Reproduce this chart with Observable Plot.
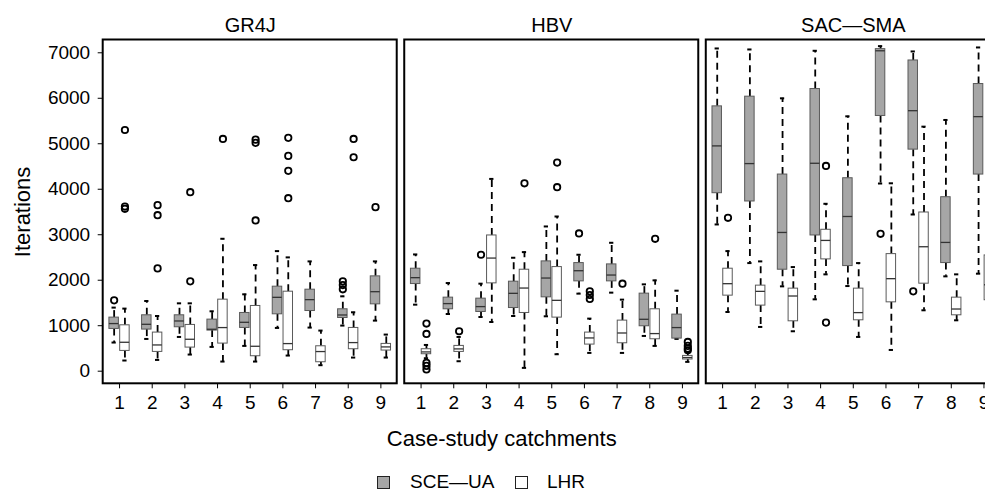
<!DOCTYPE html>
<html>
<head>
<meta charset="utf-8">
<script src="https://cdn.jsdelivr.net/npm/d3@7"></script>
<script src="https://cdn.jsdelivr.net/npm/@observablehq/plot@0.6"></script>
<style>
  html, body { margin: 0; padding: 0; background: #fff; overflow: hidden; }
  #wrap { position: relative; width: 985px; height: 491px; overflow: hidden; font-family: "Liberation Sans", Arial, sans-serif; }
  #wrap svg { max-width: none !important; height: auto; display: block; }
  #legend { position: absolute; left: 0; top: 470px; width: 985px; height: 24px; font-size: 19px; color: #000; }
  #legend .sw { position: absolute; top: 6px; width: 11px; height: 11px; border: 1px solid #222; box-sizing: content-box; }
  #legend .lb { position: absolute; top: 0; line-height: 24px; white-space: nowrap; }
</style>
</head>
<body>
<div id="wrap"></div>
<script>
// ---------- data ----------
const models = ["GR4J", "HBV", "SAC\u2014SMA"];
const methods = ["SCE\u2014UA", "LHR"];
const catchments = [1, 2, 3, 4, 5, 6, 7, 8, 9];
const yTicks = [0, 1000, 2000, 3000, 4000, 5000, 6000, 7000];

// each row: [lower whisker, Q1, median, Q3, upper whisker] for catchments 1..9
const gr4jSce = [
  [630, 929, 1047, 1178, 1398], [709, 915, 1031, 1229, 1543], [753, 966, 1104, 1229, 1492],
  [534, 893, 922, 1134, 1317], [556, 951, 1075, 1280, 1690], [951, 1251, 1624, 1858, 2640],
  [959, 1323, 1573, 1792, 2414], [1003, 1170, 1236, 1361, 1646], [1112, 1470, 1748, 2085, 2414]
];
const gr4jLhr = [
  [235, 446, 636, 1009, 1376], [248, 424, 577, 849, 1214], [366, 519, 702, 1017, 1492],
  [212, 607, 959, 1573, 2911], [212, 329, 548, 1434, 2333], [344, 461, 607, 1748, 2502],
  [132, 197, 432, 548, 893], [300, 483, 629, 951, 1295], [300, 454, 534, 600, 805]
];
const hbvSce = [
  [1463, 1916, 2056, 2253, 2567], [1257, 1361, 1486, 1617, 1938], [1192, 1302, 1420, 1595, 1924],
  [1214, 1389, 1712, 1968, 2494], [1207, 1624, 2048, 2414, 3182], [1705, 1975, 2209, 2377, 2560],
  [1727, 1975, 2114, 2348, 2823], [775, 988, 1141, 1705, 1909], [710, 717, 959, 1244, 1770]
];
const hbvLhr = [
  [285, 373, 424, 483, 577], [219, 424, 490, 556, 753], [1082, 1931, 2487, 2984, 4227],
  [73, 1280, 1828, 2231, 2618], [373, 1178, 1558, 2289, 3401], [402, 585, 731, 849, 1156],
  [402, 614, 840, 1112, 1573], [556, 702, 827, 1361, 1997], [205, 257, 300, 336, 420]
];
const sacSce = [
  [3226, 3913, 4953, 5822, 7095], [2377, 3731, 4564, 6035, 7073], [1865, 2231, 3050, 4323, 5999],
  [1580, 2984, 4571, 6203, 7044], [1872, 2311, 3401, 4242, 5603], [4126, 5611, 7044, 7080, 7146],
  [3445, 4871, 5727, 6831, 7029], [2085, 2377, 2831, 3825, 5523], [2144, 4323, 5596, 6313, 7117]
];
const sacLhr = [
  [1302, 1661, 1924, 2253, 2640], [973, 1442, 1755, 1881, 2414], [878, 1097, 1653, 1815, 2289],
  [2129, 2458, 2875, 3109, 3680], [753, 1119, 1288, 1815, 2377], [467, 1514, 2034, 2574, 4131],
  [1339, 1924, 2736, 3489, 5376], [1119, 1229, 1367, 1617, 2129], [1000, 1560, 1900, 2545, 3100]
];

// outliers: [catchment, iterations]
const gr4jSceOut = [[1, 1558], [8, 1975], [8, 1894], [8, 1800], [9, 3606]];
const gr4jLhrOut = [[1, 5303], [1, 3620], [1, 3570], [2, 3650], [2, 3430], [2, 2260], [3, 3935], [3, 1975],
  [4, 5106], [5, 5090], [5, 5020], [5, 3314], [6, 5130], [6, 4733], [6, 4404], [6, 3803], [8, 5106], [8, 4703]];
const hbvSceOut = [[3, 2560], [6, 3028]];
const hbvLhrOut = [[1, 1047], [1, 819], [1, 182], [1, 116], [1, 37], [2, 878], [4, 4131], [5, 4586], [5, 4045],
  [6, 1755], [6, 1675], [6, 1587], [7, 1924], [8, 2911], [9, 643], [9, 556], [9, 497], [9, 461]];
const sacSceOut = [[6, 3021], [7, 1755]];
const sacLhrOut = [[1, 3372], [4, 4512], [4, 1068]];

// ---------- layout ----------
const W = 1001, H = 458;
const panelPitch = 9.23;      // x units between panel origins
const offset = 0.165;         // method offset from catchment centre
const boxHalf = 0.145;        // half box width
const capHalf = 0.065;        // half whisker-cap width
const yDomain = [-277, 7281];

const series = [
  [0, 0, gr4jSce, gr4jSceOut], [0, 1, gr4jLhr, gr4jLhrOut],
  [1, 0, hbvSce, hbvSceOut], [1, 1, hbvLhr, hbvLhrOut],
  [2, 0, sacSce, sacSceOut], [2, 1, sacLhr, sacLhrOut]
];
const xOf = (p, m, c) => p * panelPitch + c + (m === 0 ? -offset : offset);

const boxes = series.flatMap(([p, m, stats]) => stats.map((s, i) => ({
  model: models[p], method: methods[m], x: xOf(p, m, catchments[i]),
  lo: s[0], q1: s[1], med: s[2], q3: s[3], hi: s[4]
})));
const outliers = series.flatMap(([p, m, , out]) => out.map(([c, v]) => ({
  model: models[p], method: methods[m], x: xOf(p, m, c), y: v
})));
const panels = models.map((name, p) => ({name, x1: p * panelPitch + 0.5, x2: p * panelPitch + 9.5, xc: p * panelPitch + 5}));

const tickPos = models.flatMap((_, p) => catchments.map(c => p * panelPitch + c));
const tickLabel = new Map(models.flatMap((_, p) => catchments.map(c => [(p * panelPitch + c).toFixed(3), String(c)])));

const dash = "7,5";
const chart = Plot.plot({
  width: W, height: H,
  marginLeft: 102.7, marginRight: 1.2, marginTop: 39.5, marginBottom: H - 383.3,
  style: {fontFamily: "Liberation Sans, Arial, sans-serif", fontSize: "19px", color: "#000", background: "#fff", overflow: "visible", maxWidth: "none"},
  x: {type: "linear", domain: [0.5, 2 * panelPitch + 9.5], ticks: tickPos, tickFormat: d => tickLabel.get(d.toFixed(3)), tickSize: 5, tickPadding: 7, label: null},
  y: {domain: yDomain, ticks: yTicks, tickFormat: d => String(d), tickSize: 5, tickPadding: 8, label: null},
  color: {domain: methods, range: ["#a6a6a6", "#ffffff"]},
  marks: [
    // whiskers
    Plot.ruleX(boxes, {x: "x", y1: "q3", y2: "hi", stroke: "#000", strokeWidth: 1.8, strokeDasharray: dash}),
    Plot.ruleX(boxes, {x: "x", y1: "q1", y2: "lo", stroke: "#000", strokeWidth: 1.8, strokeDasharray: dash}),
    // caps
    Plot.ruleY(boxes, {y: "hi", x1: d => d.x - capHalf, x2: d => d.x + capHalf, stroke: "#000", strokeWidth: 2}),
    Plot.ruleY(boxes, {y: "lo", x1: d => d.x - capHalf, x2: d => d.x + capHalf, stroke: "#000", strokeWidth: 2}),
    // boxes
    Plot.rect(boxes, {x1: d => d.x - boxHalf, x2: d => d.x + boxHalf, y1: "q1", y2: "q3", fill: "method", stroke: "#5a5a5a", strokeWidth: 1}),
    // medians
    Plot.ruleY(boxes, {y: "med", x1: d => d.x - boxHalf, x2: d => d.x + boxHalf, stroke: "#333", strokeWidth: 1.3}),
    // outliers
    Plot.dot(outliers, {x: "x", y: "y", r: 3.2, fill: "none", stroke: "#000", strokeWidth: 1.8}),
    // panel frames
    Plot.rect(panels, {x1: "x1", x2: "x2", y1: () => yDomain[0], y2: () => yDomain[1], fill: "none", stroke: "#000", strokeWidth: 2}),
    // panel titles
    Plot.text(panels, {x: "xc", text: "name", frameAnchor: "top", lineAnchor: "middle", dy: -14, fontSize: 20}),
    // axis titles
    Plot.text(["Iterations"], {frameAnchor: "left", text: d => d, rotate: -90, textAnchor: "middle", lineAnchor: "middle", dx: -80.5, fontSize: 22}),
    Plot.text(["Case-study catchments"], {frameAnchor: "bottom", text: d => d, textAnchor: "middle", lineAnchor: "middle", dx: -50, dy: 55, fontSize: 22})
  ]
});

const wrap = document.getElementById("wrap");
wrap.appendChild(chart);

// legend (below the SVG area)
const legend = document.createElement("div");
legend.id = "legend";
const color = chart.scale("color");
const items = [[377, 410], [515, 547]];
methods.forEach((m, i) => {
  const sw = document.createElement("span");
  sw.className = "sw";
  sw.style.left = items[i][0] + "px";
  sw.style.background = color.apply(m);
  legend.appendChild(sw);
  const lb = document.createElement("span");
  lb.className = "lb";
  lb.style.left = items[i][1] + "px";
  lb.textContent = m;
  legend.appendChild(lb);
});
wrap.appendChild(legend);
</script>
</body>
</html>
